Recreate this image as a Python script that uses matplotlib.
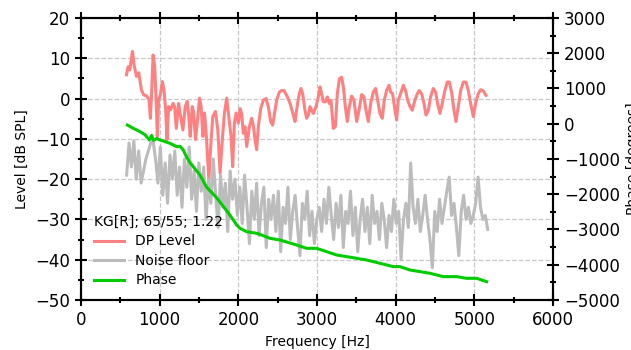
import matplotlib
matplotlib.use("Agg")
import matplotlib.pyplot as plt
import numpy as np
from matplotlib.ticker import MultipleLocator

# DP level
dp_freq = [578, 599, 620, 654, 675, 705, 734, 768, 797, 831, 865, 882, 899, 916, 937,
           958, 970, 987, 1008, 1034, 1055, 1076, 1093, 1114, 1139, 1169, 1190, 1211,
           1241, 1266, 1295, 1325, 1350, 1371, 1388, 1414, 1430, 1456, 1485, 1506, 1527,
           1549, 1570, 1591, 1625, 1646, 1675, 1709, 1739, 1768, 1793, 1823, 1852, 1878,
           1907, 1928, 1950, 1971, 2000, 2021, 2042, 2063, 2085, 2106, 2140, 2169, 2190,
           2212, 2233, 2254, 2284, 2318, 2351, 2381, 2411, 2436, 2457, 2487, 2521, 2551,
           2580, 2614, 2657, 2699, 2720, 2750, 2775, 2796, 2818, 2847, 2868, 2890, 2911,
           2932, 2953, 2987, 3017, 3038, 3059, 3080, 3106, 3131, 3156, 3178, 3207, 3233,
           3258, 3284, 3313, 3335, 3360, 3385, 3411, 3440, 3470, 3504, 3534, 3567, 3597,
           3622, 3652, 3682, 3716, 3745, 3771, 3800, 3830, 3855, 3885, 3915, 3936, 3961,
           3991, 4012, 4033, 4063, 4097, 4126, 4152, 4182, 4211, 4245, 4275, 4300, 4330,
           4360, 4385, 4415, 4444, 4478, 4508, 4533, 4563, 4592, 4626, 4656, 4682, 4711,
           4741, 4766, 4796, 4826, 4860, 4893, 4923, 4953, 4987, 5016, 5050, 5080, 5114,
           5148]
dp_level = [5.9, 7.9, 7.1, 11.7, 8.3, 5.5, 6.4, 2.1, 0.9, 0.7, -0.3, -4.9, 2.1, 10.8, 7.9,
            -2.0, -9.4, -0.3, 0.9, 4.2, 2.1, -2.8, -10.2, -2.0, -2.8, -1.2, -2.0, -7.4,
            -1.2, -4.5, -7.8, -2.0, -0.7, -4.5, -9.4, -2.0, -3.2, -10.2, -4.5, 0.1, -2.0,
            -9.4, -3.6, -8.6, -20.2, -12.7, -4.5, -3.2, -7.8, -18.5, -11.1, -3.6, 0.1, -4.5,
            -9.4, -16.9, -6.1, -3.6, -6.1, -2.5, -3.7, -8.6, -7.0, -11.9, -7.0, -4.9, -6.6,
            -10.2, -12.7, -7.0, -2.5, -0.4, 0.0, -2.0, -5.7, -6.6, -4.1, -0.4, 1.6, 2.0,
            2.0, 0.8, -1.2, -4.1, -5.7, -1.6, 1.2, 2.5, 1.2, -2.9, -4.9, -4.1, -2.0,
            -2.9, -3.7, -2.0, 0.4, 2.9, 1.2, -0.8, -0.8, 0.4, -1.2, -0.4, -7.4, -7.0,
            1.2, 4.9, 5.3, 2.9, -2.0, -5.7, -2.0, 0.6, -0.4, -5.7, -2.9, 1.0, 0.4,
            -2.9, -5.7, -1.2, 1.6, 2.5, -0.4, -3.7, -4.9, -0.4, 2.0, 3.3, 1.6, 1.2,
            -2.9, -5.3, -0.4, 1.2, 3.3, 2.0, -0.4, -2.0, -2.9, -0.4, 1.2, 2.0, 1.2,
            -1.2, -4.1, -2.9, 0.4, 2.5, 1.6, -1.2, -3.7, -1.2, 2.0, 4.1, 4.1, 1.6,
            -2.9, -5.7, -2.0, 2.0, 4.1, 4.1, 2.0, -1.2, -4.5, -1.2, 1.2, 2.2, 1.9,
            0.8]

# noise floor, sampled evenly from 580 Hz to 5170 Hz
noise_start, noise_stop = 580, 5170
noise_level = [-19, -11, -17, -10.5, -20, -13, -21, -18, -15, -13, -11, -10.5, -15, -21,
               -12, -24, -16, -26, -14, -20, -13, -24, -17, -27, -15, -22, -12, -25,
               -18, -28, -16, -23, -17, -30, -20, -26, -15, -24, -32, -19, -27, -21,
               -33, -18, -25, -20, -29, -22, -31, -19, -27, -36, -23, -30, -21, -34,
               -26, -22, -37, -25, -30, -24, -33, -23, -38, -27, -31, -22, -35, -28,
               -24, -32, -39, -26, -30, -23, -34, -28, -36, -30, -27, -33, -25, -31,
               -22, -29, -35, -26, -32, -24, -37, -28, -31, -23, -34, -27, -38, -30,
               -25, -33, -27, -36, -24, -31, -28, -35, -26, -30, -37, -29, -33, -25,
               -31, -28, -40, -30, -26, -32, -16, -27, -31, -25, -33, -29, -24, -30,
               -35, -42, -28, -33, -25, -31, -27, -23, -19.5, -29, -26, -32, -39, -28,
               -24, -30, -27, -31, -29, -26, -19.5, -27, -30, -29, -32.5]
noise_freq = np.linspace(noise_start, noise_stop, len(noise_level))

# phase (right axis)
phase_freq = [589, 665, 750, 813, 868, 898, 919, 962, 1004, 1068, 1131, 1173, 1216, 1258,
              1300, 1343, 1385, 1449, 1512, 1597, 1724, 1852, 1937, 1979, 2021, 2106,
              2233, 2300, 2402, 2529, 2741, 2868, 2995, 3123, 3250, 3377, 3504, 3631,
              3800, 3969, 4054, 4182, 4309, 4436, 4605, 4775, 4902, 5029, 5156]
phase_deg = [-36, -130, -225, -310, -461, -330, -470, -420, -461, -508, -555, -603, -650,
             -640, -745, -950, -1100, -1280, -1454, -1800, -2100, -2470, -2731, -2873,
             -2967, -3062, -3108, -3160, -3250, -3298, -3440, -3534, -3534, -3630, -3724,
             -3771, -3818, -3865, -3959, -4054, -4054, -4149, -4196, -4243, -4338, -4338,
             -4385, -4385, -4480]

fig = plt.figure(figsize=(6.31, 3.5), dpi=100)
ax = fig.add_axes([0.1284, 0.1429, 0.748, 0.8057])
ax2 = ax.twinx()

l1, = ax.plot(dp_freq, dp_level, color='#ff8080', lw=2.2, label='DP Level', zorder=2)
l2, = ax.plot(noise_freq, noise_level, color='#bcbcbc', lw=2.2, label='Noise floor', zorder=3)
l3, = ax2.plot(phase_freq, phase_deg, color='#00cc00', lw=2.2, label='Phase')

ax.set_xlim(0, 6000)
ax.set_ylim(-50, 20)
ax2.set_ylim(-5000, 3000)

ax.xaxis.set_major_locator(MultipleLocator(1000))
ax.xaxis.set_minor_locator(MultipleLocator(500))
ax.yaxis.set_major_locator(MultipleLocator(10))
ax.yaxis.set_minor_locator(MultipleLocator(5))
ax2.yaxis.set_major_locator(MultipleLocator(1000))
ax2.yaxis.set_minor_locator(MultipleLocator(500))

for a in (ax, ax2):
    a.tick_params(which='major', direction='inout', length=9, width=1.5, labelsize=12)
    a.tick_params(which='minor', direction='inout', length=5, width=1.5)
    for s in a.spines.values():
        s.set_linewidth(1.5)
ax.tick_params(which='both', top=True)

ax.grid(True, which='major', ls='--', color='#c8c8c8', lw=0.9)

ax.set_xlabel('Frequency [Hz]', fontsize=10)
ax.set_ylabel('Level [dB SPL]', fontsize=10)
ax2.set_ylabel('Phase [degrees]', fontsize=10)

ax.legend([l1, l2, l3], ['DP Level', 'Noise floor', 'Phase'], title='KG[R]; 65/55; 1.22',
          loc='lower left', frameon=False, fontsize=10, title_fontsize=10,
          alignment='left', labelspacing=0.4, handlelength=2.2, borderaxespad=0.5)

fig.savefig('out.png', dpi=100)
